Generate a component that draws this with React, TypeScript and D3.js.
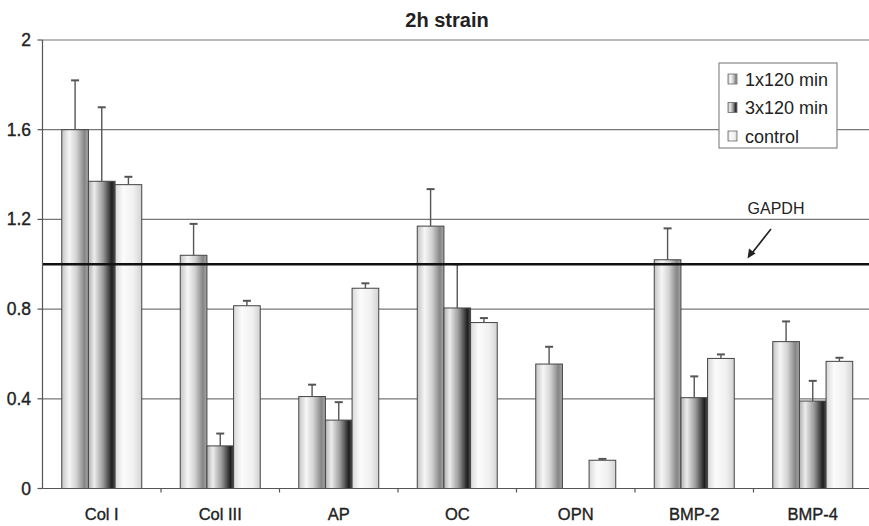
import React from "react";
import * as d3 from "d3";

const categories = ["Col I", "Col III", "AP", "OC", "OPN", "BMP-2", "BMP-4"];
const seriesNames = ["1x120 min", "3x120 min", "control"];
const values1x = [1.6, 1.04, 0.41, 1.17, 0.555, 1.02, 0.655];
const errors1x = [0.22, 0.14, 0.053, 0.165, 0.077, 0.14, 0.09];
const values3x = [1.37, 0.19, 0.305, 0.805, 0, 0.405, 0.39];
const errors3x = [0.33, 0.055, 0.08, 0.195, 0, 0.095, 0.09];
const valuesCtrl = [1.355, 0.815, 0.893, 0.74, 0.126, 0.58, 0.567];
const errorsCtrl = [0.035, 0.022, 0.022, 0.02, 0.006, 0.018, 0.016];
const yTicks = [0, 0.4, 0.8, 1.2, 1.6, 2];
const gapdhLevel = 1.0;

const W = 869;
const H = 526;
const m = { left: 42.5, right: 872, top: 40, bottom: 488.5 };

const gradIds = ["g1x", "g3x", "gctrl"];

export default function App() {
  const x = d3.scaleBand<string>().domain(categories).range([m.left, m.right]).paddingInner(0.325).paddingOuter(0.1625);
  const xs = d3.scaleBand<string>().domain(seriesNames).range([0, x.bandwidth()]).padding(0);
  const y = d3.scaleLinear().domain([0, 2]).range([m.bottom, m.top]);

  const series = [
    { name: seriesNames[0], vals: values1x, errs: errors1x },
    { name: seriesNames[1], vals: values3x, errs: errors3x },
    { name: seriesNames[2], vals: valuesCtrl, errs: errorsCtrl },
  ];

  const step = x.step();
  const catTicks = d3.range(1, categories.length).map((i) => m.left + i * step);
  // slight outline so the text reads as heavy as in the scanned original
  const heavy = { stroke: "#222", strokeWidth: 0.35 };

  return (
    <svg width={W} height={H} style={{ position: "absolute", left: 0, top: 0, background: "#fff" }} fontFamily="'Liberation Sans', Arial, sans-serif">
      <defs>
        <linearGradient id="g1x" x1="0" x2="1" y1="0" y2="0">
          <stop offset="0" stopColor="#c4c4c4" />
          <stop offset="0.28" stopColor="#f6f6f6" />
          <stop offset="0.55" stopColor="#d2d2d2" />
          <stop offset="0.85" stopColor="#858585" />
          <stop offset="1" stopColor="#a8a8a8" />
        </linearGradient>
        <linearGradient id="g3x" x1="0" x2="1" y1="0" y2="0">
          <stop offset="0" stopColor="#b0b0b0" />
          <stop offset="0.22" stopColor="#ececec" />
          <stop offset="0.55" stopColor="#9a9a9a" />
          <stop offset="0.88" stopColor="#1e1e1e" />
          <stop offset="1" stopColor="#505050" />
        </linearGradient>
        <linearGradient id="gctrl" x1="0" x2="1" y1="0" y2="0">
          <stop offset="0" stopColor="#d8d8d8" />
          <stop offset="0.3" stopColor="#fbfbfb" />
          <stop offset="0.7" stopColor="#f0f0f0" />
          <stop offset="1" stopColor="#d2d2d2" />
        </linearGradient>
      </defs>

      <text x={447} y={27} textAnchor="middle" fontSize={20} fontWeight="bold" fill="#222">2h strain</text>

      {yTicks.filter((t) => t > 0).map((t) => (
        <line key={t} x1={m.left} x2={m.right} y1={y(t)} y2={y(t)} stroke="#777" strokeWidth={1.2} />
      ))}

      {series.map((s, si) =>
        categories.map((c, ci) => {
          const v = s.vals[ci];
          if (!v) return null;
          const bx = (x(c) as number) + (xs(s.name) as number);
          return (
            <rect key={s.name + c} x={bx} y={y(v)} width={xs.bandwidth()} height={y(0) - y(v)}
              fill={`url(#${gradIds[si]})`} stroke="#444" strokeWidth={1} />
          );
        })
      )}

      {series.map((s) =>
        categories.map((c, ci) => {
          const v = s.vals[ci];
          const e = s.errs[ci];
          if (!v || !e) return null;
          const cx = (x(c) as number) + (xs(s.name) as number) + xs.bandwidth() / 2;
          return (
            <g key={"e" + s.name + c} stroke="#555" strokeWidth={1.4}>
              <line x1={cx} x2={cx} y1={y(v)} y2={y(v + e)} />
              <line x1={cx - 4} x2={cx + 4} y1={y(v + e)} y2={y(v + e)} strokeWidth={2} />
            </g>
          );
        })
      )}

      <line x1={m.left} x2={m.right} y1={y(gapdhLevel)} y2={y(gapdhLevel)} stroke="#111" strokeWidth={2.6} />

      <line x1={m.left} x2={m.left} y1={m.top} y2={m.bottom} stroke="#555" strokeWidth={1.2} />
      <line x1={m.left} x2={m.right} y1={m.bottom} y2={m.bottom} stroke="#555" strokeWidth={1.2} />
      {yTicks.map((t) => (
        <g key={"yt" + t}>
          <line x1={m.left - 5} x2={m.left} y1={y(t)} y2={y(t)} stroke="#555" strokeWidth={1.2} />
          <text x={31} y={y(t) + 6} textAnchor="end" fontSize={17.5} fill="#222" {...heavy}>{t}</text>
        </g>
      ))}
      {catTicks.map((t) => (
        <line key={"xt" + t} x1={t} x2={t} y1={m.bottom} y2={m.bottom + 4} stroke="#555" strokeWidth={1.2} />
      ))}
      {categories.map((c) => (
        <text key={"xl" + c} x={(x(c) as number) + x.bandwidth() / 2} y={520} textAnchor="middle" fontSize={16.5} fill="#222" {...heavy}>{c}</text>
      ))}

      <g>
        <rect x={719} y={63} width={118} height={85} fill="#fff" stroke="#888" strokeWidth={1.2} />
        {seriesNames.map((n, i) => (
          <g key={"lg" + n}>
            <rect x={728} y={74 + i * 28.5} width={9} height={10} fill={`url(#${gradIds[i]})`} stroke="#666" strokeWidth={0.8} />
            <text x={745} y={85.5 + i * 28.5} fontSize={18} fill="#222">{n}</text>
          </g>
        ))}
      </g>

      <text x={776} y={214} textAnchor="middle" fontSize={16} fill="#222">GAPDH</text>
      <line x1={771} y1={229} x2={750.5} y2={255} stroke="#222" strokeWidth={1.6} />
      <path d="M747.5,258.5 L749,248.5 L755.5,253.5 Z" fill="#222" />
    </svg>
  );
}
